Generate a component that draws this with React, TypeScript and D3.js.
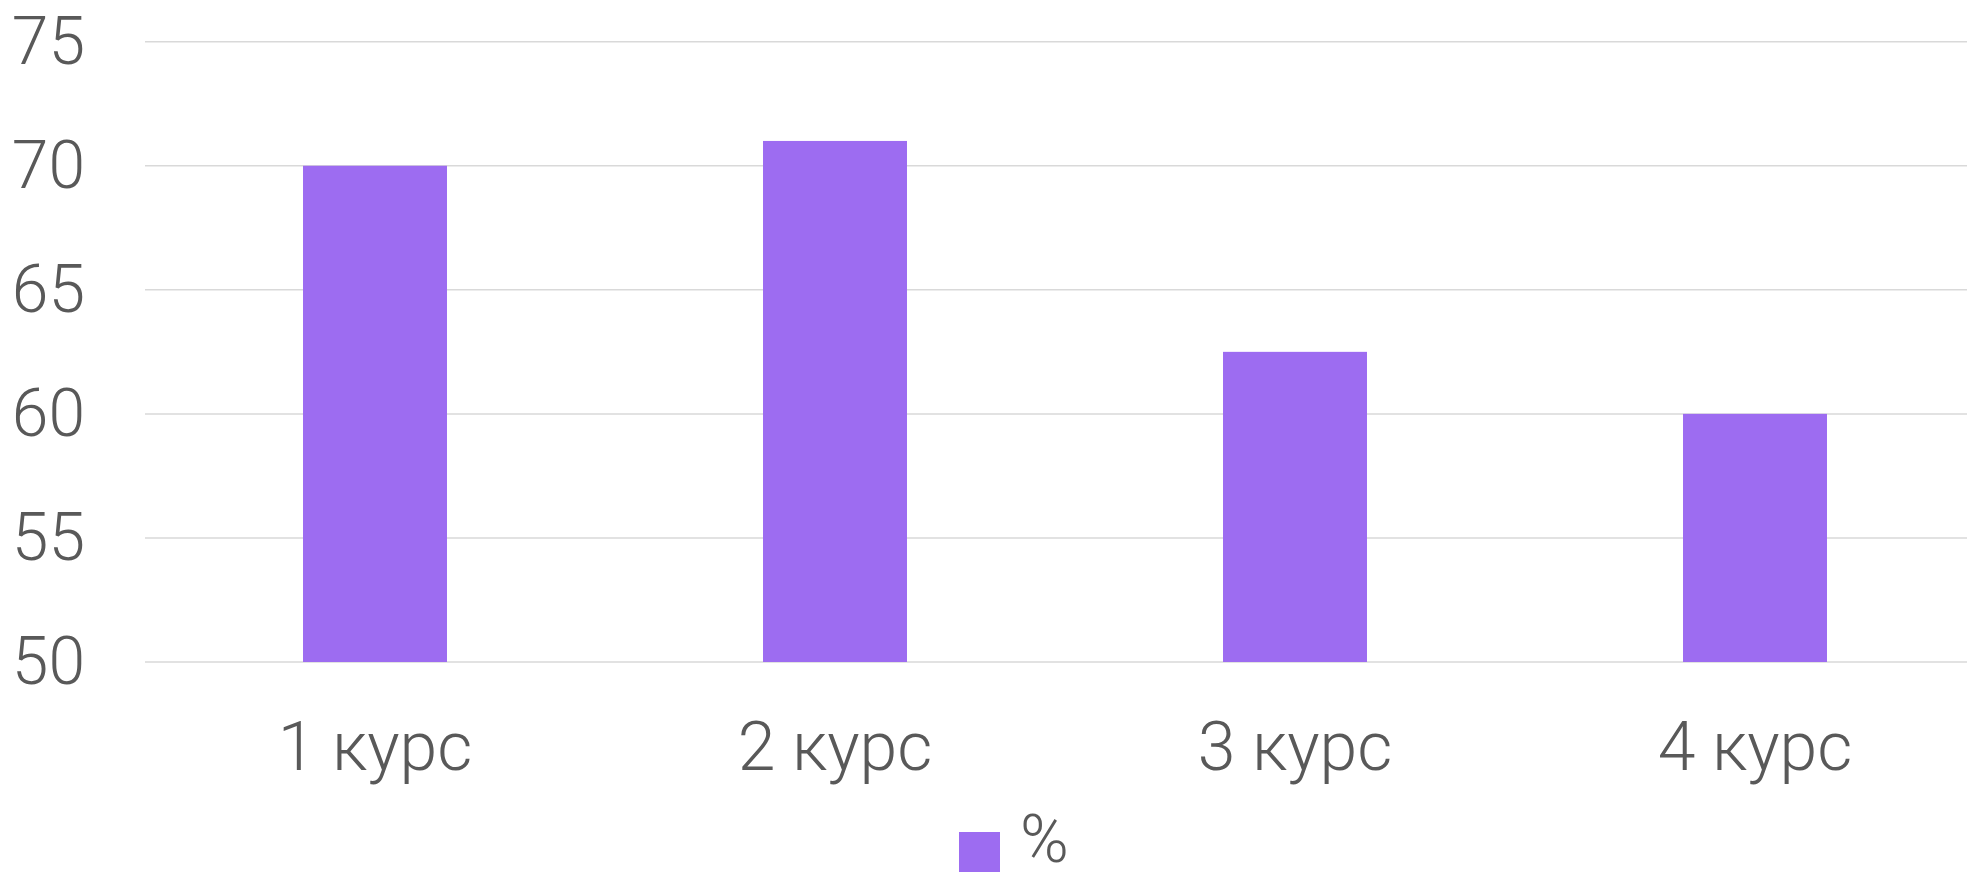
import React from "react";
import * as d3 from "d3";

const categories = ["1 курс", "2 курс", "3 курс", "4 курс"];
const values = [70, 71, 62.5, 60];
const yTicks = [50, 55, 60, 65, 70, 75];
const seriesName = "%";

const W = 1967;
const H = 879;
const TEXT = "#595959";
const BAR = "#9d6cf1";
const GRID = "#d9d9d9";
const FONT = "'Roboto', 'Noto Sans', sans-serif";

export default function App() {
  const x = d3
    .scaleBand<string>()
    .domain(categories)
    .range([145, 1985])
    .paddingInner(0.687)
    .paddingOuter(0.3435);
  const y = d3.scaleLinear().domain([50, 75]).range([662, 41.7]);

  return (
    <svg
      width={W}
      height={H}
      style={{ position: "absolute", left: 0, top: 0, background: "#fff" }}
    >
      <rect x={0} y={0} width={W} height={H} fill="#fff" />
      {yTicks.map((t) => (
        <g key={t}>
          <line
            x1={x.range()[0]}
            x2={x.range()[1]}
            y1={y(t)}
            y2={y(t)}
            stroke={GRID}
            strokeWidth={1.5}
          />
          <text
            x={85}
            y={y(t) + 22}
            textAnchor="end"
            fontFamily={FONT}
            fontWeight={300}
            fontSize={66}
            fill={TEXT}
          >
            {t}
          </text>
        </g>
      ))}
      {categories.map((c, i) => (
        <rect
          key={c}
          x={x(c)}
          y={y(values[i])}
          width={x.bandwidth()}
          height={y(50) - y(values[i])}
          fill={BAR}
        />
      ))}
      {categories.map((c) => (
        <text
          key={c}
          x={(x(c) as number) + x.bandwidth() / 2}
          y={769.5}
          textAnchor="middle"
          fontFamily={FONT}
          fontWeight={300}
          fontSize={68}
          fill={TEXT}
        >
          {c}
        </text>
      ))}
      <rect x={959} y={832} width={41} height={40} fill={BAR} />
      <text
        x={1020}
        y={862}
        fontFamily={FONT}
        fontWeight={300}
        fontSize={66}
        fill={TEXT}
      >
        {seriesName}
      </text>
    </svg>
  );
}
